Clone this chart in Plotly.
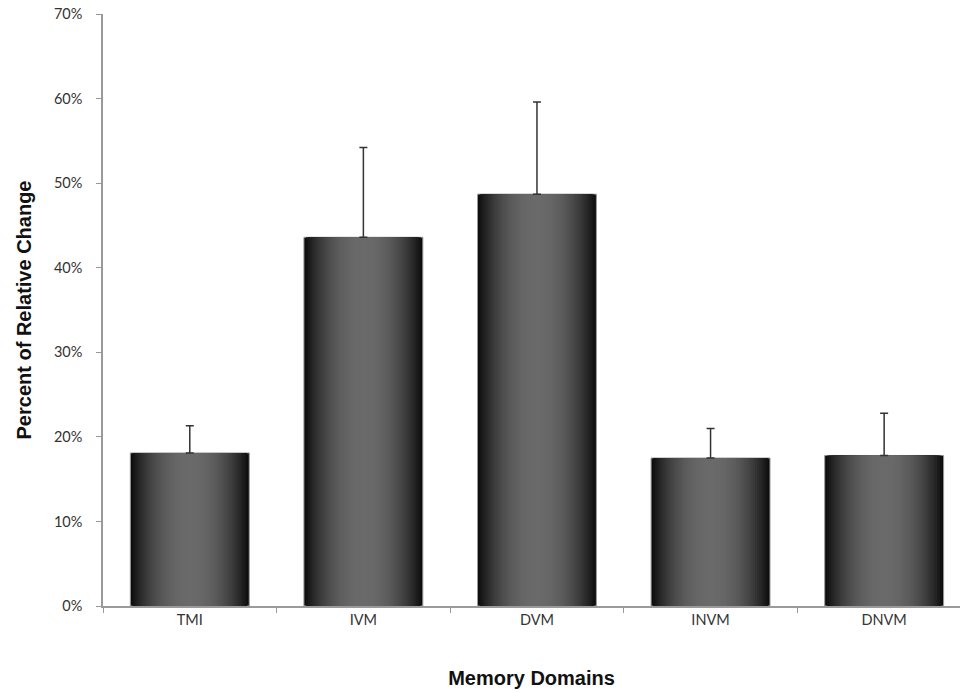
import plotly.graph_objects as go

categories = ["TMI", "IVM", "DVM", "INVM", "DNVM"]
values = [18.1, 43.6, 48.7, 17.5, 17.8]
errors = [3.2, 10.6, 10.9, 3.5, 5.0]
y_ticks = [0, 10, 20, 30, 40, 50, 60, 70]
y_tick_labels = [f"{v}%" for v in y_ticks]

BAR_W = 0.685
N = 28
fig = go.Figure()
for k in range(N):
    d = 1 - k / N
    g = int(round(106 - 93 * d ** 2.2))
    col = f"rgb({g},{g},{g})"
    kw = {}
    if k == 0:
        kw["marker_line"] = dict(color="#9a9a9a", width=1)
    else:
        kw["marker_line"] = dict(width=0)
    if k == N - 1:
        kw["error_y"] = dict(type="data", symmetric=False, array=errors,
                             arrayminus=[0] * len(errors), color="#333333",
                             thickness=1.5, width=4)
    fig.add_trace(go.Bar(x=categories, y=values, width=BAR_W * d,
                         marker_color=col, showlegend=False, hoverinfo="skip",
                         **kw))

fig.update_layout(
    barmode="overlay",
    width=960, height=692,
    margin=dict(l=103, r=0, t=14, b=86, autoexpand=False),
    plot_bgcolor="white", paper_bgcolor="white",
    font=dict(family="Lato, Open Sans, sans-serif", size=14.5, color="#333333"),
)
fig.update_xaxes(
    type="category", range=[-0.5, 4.437], automargin=False,
    showline=True, linecolor="#9a9a9a", linewidth=1.5,
    ticks="outside", tickson="boundaries", ticklen=5, tickcolor="#9a9a9a",
    showgrid=False, tickfont=dict(size=14.5, color="#333333"),
    title=dict(text="Memory Domains", standoff=44,
               font=dict(family="Liberation Sans, Arial, sans-serif", size=20, color="#111111", weight="bold")),
)
fig.update_yaxes(
    range=[0, 70], tickvals=y_ticks, ticktext=y_tick_labels, automargin=False,
    showline=True, linecolor="#9a9a9a", linewidth=1.5, ticklabeloverflow="allow",
    ticks="outside", ticklen=5, tickcolor="#9a9a9a", ticklabelstandoff=11,
    showgrid=False, zeroline=False, tickfont=dict(size=14.5, color="#333333"),
    title=dict(text="Percent of Relative Change", standoff=17,
               font=dict(family="Liberation Sans, Arial, sans-serif", size=20, color="#111111", weight="bold")),
)
fig.write_html(
    "out.html",
    config={"displayModeBar": False},
    post_script="document.body.style.margin='0';document.body.style.overflow='hidden';",
)
